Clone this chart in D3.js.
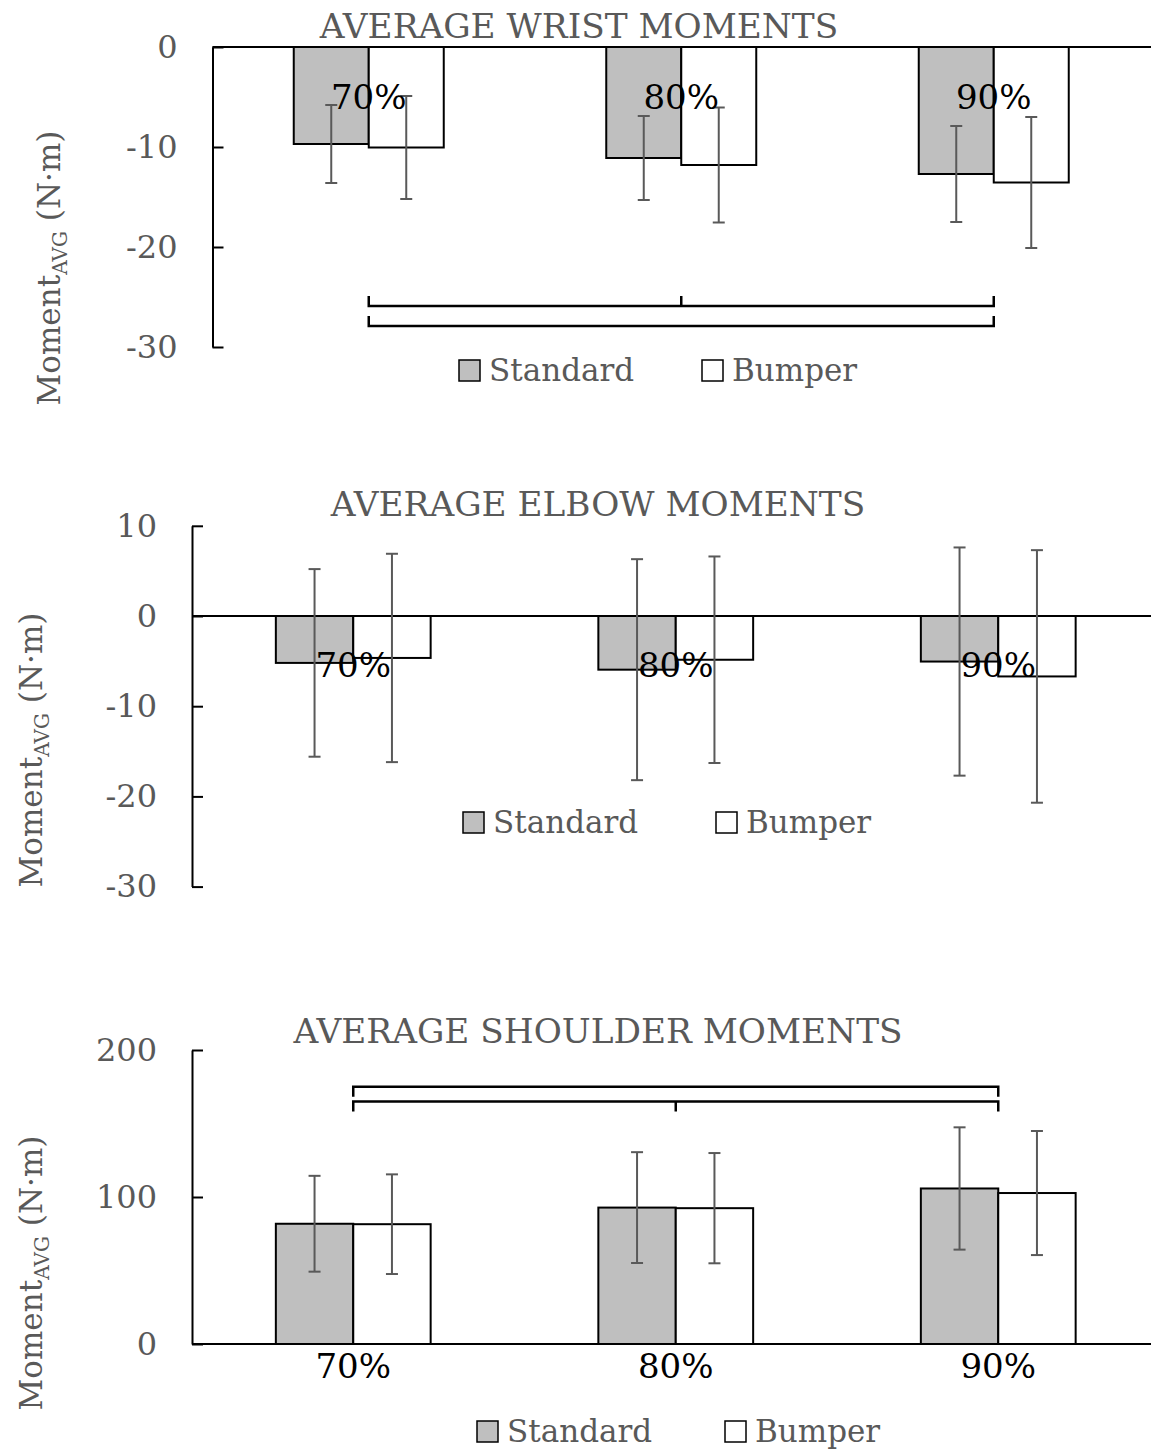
<!DOCTYPE html>
<html>
<head>
<meta charset="utf-8">
<script src="https://cdn.jsdelivr.net/npm/d3@7"></script>
<style>
  html, body { margin: 0; padding: 0; background: #fff; }
  svg { display: block; }
  text { font-family: "DejaVu Serif", "Liberation Serif", serif; }
</style>
</head>
<body>
<svg id="chart" width="1151" height="1450"></svg>
<script>
// ---------------- DATA ----------------
const categories = ["70%", "80%", "90%"];
const seriesNames = ["Standard", "Bumper"];

const wristStandard    = [-9.7, -11.1, -12.7];
const wristStandardErr = [3.9, 4.2, 4.8];
const wristBumper      = [-10.05, -11.8, -13.55];
const wristBumperErr   = [5.15, 5.75, 6.55];
const wristTicks       = [0, -10, -20, -30];

const elbowStandard    = [-5.2, -5.95, -5.05];
const elbowStandardErr = [10.4, 12.25, 12.65];
const elbowBumper      = [-4.65, -4.85, -6.7];
const elbowBumperErr   = [11.55, 11.45, 14.0];
const elbowTicks       = [10, 0, -10, -20, -30];

const shoulderStandard    = [81.8, 92.8, 105.8];
const shoulderStandardErr = [32.6, 37.7, 41.6];
const shoulderBumper      = [81.5, 92.4, 102.7];
const shoulderBumperErr   = [33.9, 37.5, 42.2];
const shoulderTicks       = [0, 100, 200];

// significance brackets: category index span, optional middle tick, level in data units
const wristBrackets    = [{from: 0, to: 2, mid: 1, level: -25.9}, {from: 0, to: 2, mid: null, level: -27.9}];
const shoulderBrackets = [{from: 0, to: 2, mid: null, level: 175}, {from: 0, to: 2, mid: 1, level: 165}];

// ---------------- DRAW ----------------
const svg = d3.select("#chart");
svg.append("rect").attr("width", 1151).attr("height", 1450).attr("fill", "#fff");

const GREY = "#595959";

function drawChart(cfg) {
  const g = svg.append("g");
  const x = d3.scaleBand().domain(categories).range([cfg.axisX, cfg.rangeEnd]).paddingInner(0).paddingOuter(0);
  const y = d3.scaleLinear().domain(cfg.yDomain).range(cfg.yRange);
  const bw = x.bandwidth() * 0.24;
  const cx = c => x(c) + x.bandwidth() / 2;

  // title
  g.append("text").attr("x", cfg.titleX).attr("y", cfg.titleY)
    .attr("text-anchor", "middle").attr("fill", GREY).attr("font-size", cfg.titleSize)
    .text(cfg.title);

  // bars
  const rows = categories.map((c, i) => ({c, i}));
  const series = [
    {name: seriesNames[0], vals: cfg.std, errs: cfg.stdErr, fill: "#bfbfbf", off: -bw},
    {name: seriesNames[1], vals: cfg.bum, errs: cfg.bumErr, fill: "#ffffff", off: 0}
  ];
  series.forEach(s => {
    g.selectAll(null).data(rows).enter().append("rect")
      .attr("x", d => cx(d.c) + s.off)
      .attr("width", bw)
      .attr("y", d => Math.min(y(0), y(s.vals[d.i])))
      .attr("height", d => Math.abs(y(s.vals[d.i]) - y(0)))
      .attr("fill", s.fill).attr("stroke", "#000").attr("stroke-width", 2);
  });

  // zero / category line
  g.append("line").attr("x1", cfg.axisX).attr("x2", 1151)
    .attr("y1", y(0)).attr("y2", y(0)).attr("stroke", "#000").attr("stroke-width", 2);

  // y axis
  const axis = d3.axisLeft(y).tickValues(cfg.ticks).tickSize(-11).tickSizeOuter(0).tickPadding(35)
    .tickFormat(d3.format("d"));
  const ag = g.append("g").attr("transform", `translate(${cfg.axisX},0)`).call(axis);
  ag.select(".domain").attr("stroke", "#000").attr("stroke-width", 2);
  ag.selectAll(".tick line").attr("stroke", "#000").attr("stroke-width", 2);
  ag.selectAll(".tick text").attr("fill", GREY).attr("font-size", cfg.tickSize)
    .attr("font-family", "DejaVu Serif").text(d => d3.format("d")(d).replace("−", "-"));

  // error bars
  series.forEach(s => {
    const eg = g.selectAll(null).data(rows).enter().append("g")
      .attr("stroke", GREY).attr("stroke-width", 2);
    const ex = d => cx(d.c) + s.off + bw / 2;
    eg.append("line").attr("x1", ex).attr("x2", ex)
      .attr("y1", d => y(s.vals[d.i] + s.errs[d.i])).attr("y2", d => y(s.vals[d.i] - s.errs[d.i]));
    [1, -1].forEach(sg => {
      eg.append("line").attr("x1", d => ex(d) - 6).attr("x2", d => ex(d) + 6)
        .attr("y1", d => y(s.vals[d.i] + sg * s.errs[d.i])).attr("y2", d => y(s.vals[d.i] + sg * s.errs[d.i]));
    });
  });

  // category labels
  g.selectAll(null).data(categories).enter().append("text")
    .attr("x", d => cx(d)).attr("y", y(0) + cfg.catOffset)
    .attr("text-anchor", "middle").attr("fill", "#000").attr("font-size", cfg.catSize)
    .text(d => d);

  // brackets
  (cfg.brackets || []).forEach(b => {
    const ly = y(b.level);
    const t = cfg.bracketTick;
    const x1 = cx(categories[b.from]), x2 = cx(categories[b.to]);
    let d = `M${x1},${ly + t}V${ly}H${x2}V${ly + t}`;
    if (b.mid !== null) { const xm = cx(categories[b.mid]); d += `M${xm},${ly}V${ly + t}`; }
    g.append("path").attr("d", d).attr("fill", "none").attr("stroke", "#000").attr("stroke-width", 2.5);
  });

  // legend
  const leg = g.append("g");
  series.forEach((s, k) => {
    leg.append("rect").attr("x", cfg.legendX[k]).attr("y", cfg.legendY - 10)
      .attr("width", 21).attr("height", 21).attr("fill", s.fill).attr("stroke", "#000").attr("stroke-width", 1.5);
    leg.append("text").attr("x", cfg.legendX[k] + 30).attr("y", cfg.legendY).attr("dy", "0.36em")
      .attr("fill", GREY).attr("font-size", cfg.legendSize).text(s.name);
  });

  // axis title
  const at = g.append("text")
    .attr("transform", `translate(${cfg.axisTitleX},${cfg.axisTitleY}) rotate(-90)`)
    .attr("text-anchor", "middle").attr("fill", GREY).attr("font-size", 31);
  at.append("tspan").text("Moment");
  at.append("tspan").attr("font-size", 20).attr("dy", 7).text("AVG");
  at.append("tspan").attr("dy", -7).text("\u00a0(N\u00b7m)");
}

const common = {titleSize: 34.3, tickSize: 32, catSize: 34, legendSize: 31, bracketTick: 10};

drawChart(Object.assign({}, common, {
  title: "AVERAGE WRIST MOMENTS", titleX: 579, titleY: 38,
  axisX: 212.5, rangeEnd: 1150, yDomain: [-30, 0], yRange: [347, 47], ticks: wristTicks,
  std: wristStandard, stdErr: wristStandardErr, bum: wristBumper, bumErr: wristBumperErr,
  catOffset: 62, brackets: wristBrackets, bracketTick: -10,
  legendY: 370, legendX: [459, 702], axisTitleX: 60, axisTitleY: 268
}));

drawChart(Object.assign({}, common, {
  title: "AVERAGE ELBOW MOMENTS", titleX: 598, titleY: 516,
  axisX: 192, rangeEnd: 1159.5, yDomain: [-30, 10], yRange: [886.6, 525.8], ticks: elbowTicks,
  std: elbowStandard, stdErr: elbowStandardErr, bum: elbowBumper, bumErr: elbowBumperErr,
  catOffset: 61, brackets: [],
  legendY: 822, legendX: [463, 716], axisTitleX: 42, axisTitleY: 750
}));

drawChart(Object.assign({}, common, {
  title: "AVERAGE SHOULDER MOMENTS", titleX: 598, titleY: 1043,
  axisX: 192, rangeEnd: 1159.5, yDomain: [0, 200], yRange: [1344, 1050], ticks: shoulderTicks,
  std: shoulderStandard, stdErr: shoulderStandardErr, bum: shoulderBumper, bumErr: shoulderBumperErr,
  catOffset: 34, brackets: shoulderBrackets, bracketTick: 10,
  legendY: 1431, legendX: [477, 725], axisTitleX: 42, axisTitleY: 1273
}));
</script>
</body>
</html>
